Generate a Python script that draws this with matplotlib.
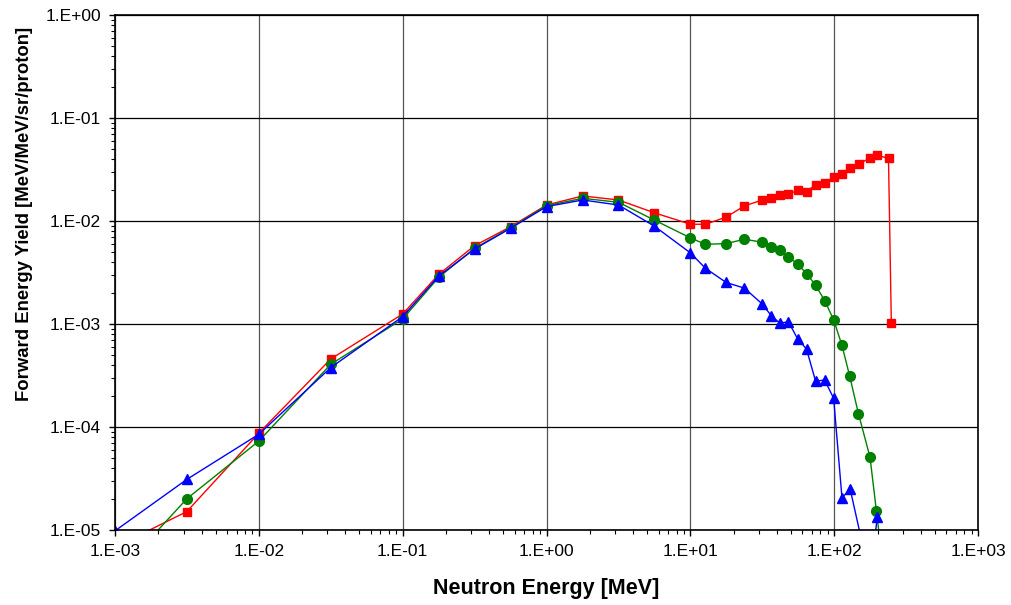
import matplotlib
matplotlib.use("Agg")
import matplotlib.pyplot as plt
import numpy as np
from matplotlib.ticker import FixedLocator, FuncFormatter, NullFormatter

plt.rcParams['font.family'] = ['Liberation Sans', 'DejaVu Sans']

# shared low-energy grid [MeV]
e_low = [1e-3, 3.16e-3, 1e-2, 3.16e-2, 1e-1, 1.78e-1, 3.16e-1, 5.62e-1,
         1.0, 1.78, 3.16, 5.62, 10.0]
# high-energy grid [MeV]
e_high = [12.7, 17.7, 23.7, 31.6, 36.5, 41.8, 48.0, 55.5, 64.1, 74.1,
          85.6, 98.9, 113, 129, 149, 177, 199, 238, 249]

red_low = [6.8e-6, 1.51e-5, 8.7e-5, 4.57e-4, 1.25e-3, 3.03e-3, 5.76e-3,
           8.8e-3, 1.43e-2, 1.75e-2, 1.60e-2, 1.20e-2, 9.3e-3]
red_high = [9.3e-3, 1.09e-2, 1.40e-2, 1.60e-2, 1.68e-2, 1.77e-2, 1.81e-2,
            1.99e-2, 1.92e-2, 2.26e-2, 2.33e-2, 2.67e-2, 2.87e-2, 3.24e-2,
            3.59e-2, 4.1e-2, 4.35e-2, 4.05e-2, 1.02e-3]

green_low = [3.5e-6, 2.01e-5, 7.3e-5, 4.06e-4, 1.12e-3, 2.84e-3, 5.43e-3,
             8.6e-3, 1.41e-2, 1.66e-2, 1.52e-2, 1.02e-2, 6.85e-3]
green_high = [5.94e-3, 6.03e-3, 6.65e-3, 6.22e-3, 5.64e-3, 5.2e-3, 4.51e-3,
              3.81e-3, 3.09e-3, 2.38e-3, 1.69e-3, 1.10e-3, 6.2e-4, 3.1e-4,
              1.35e-4, 5.1e-5, 1.54e-5, 4.0e-6]
green_high_e = [12.7, 17.7, 23.7, 31.6, 36.5, 41.8, 48.0, 55.5, 64.1, 74.1,
                85.6, 98.9, 113, 128, 147, 177, 196, 220]

blue_low = [9.8e-6, 3.1e-5, 8.5e-5, 3.77e-4, 1.18e-3, 2.92e-3, 5.35e-3,
            8.5e-3, 1.38e-2, 1.60e-2, 1.43e-2, 8.9e-3, 4.9e-3]
blue_high = [3.48e-3, 2.53e-3, 2.23e-3, 1.56e-3, 1.20e-3, 1.02e-3, 1.05e-3,
             7.2e-4, 5.7e-4, 2.78e-4, 2.86e-4, 1.9e-4, 2.06e-5, 2.48e-5,
             3.4e-6, 1.34e-5]
blue_high_e = [12.7, 17.7, 23.7, 31.6, 36.5, 41.8, 48.0, 55.5, 64.1, 74.1,
               85.6, 98.9, 113, 129, 177, 199]

x_decades = np.arange(-3, 4)
y_decades = np.arange(-5, 1)

fig = plt.figure(figsize=(10.12, 6.05), dpi=100)
ax = fig.add_axes([0.1136, 0.124, 0.853, 0.8512])

ax.plot(e_low + e_high, red_low + red_high, '-s', color='#ff0000',
        lw=1, ms=5.8)
ax.plot(e_low + green_high_e, green_low + green_high, '-o', color='#008000',
        lw=1, ms=7)
ax.plot(e_low + blue_high_e, blue_low + blue_high, '-^', color='#0000ff',
        lw=1, ms=7)

ax.set_xscale('log')
ax.set_yscale('log')
ax.set_xlim(1e-3, 1e3)
ax.set_ylim(1e-5, 1e0)

def minors(decades):
    return [m * 10.0**d for d in decades[:-1] for m in range(2, 10)]

fmt = FuncFormatter(lambda v, p: f"1.E{int(round(np.log10(v))):+03d}")
ax.xaxis.set_major_locator(FixedLocator(10.0**x_decades))
ax.yaxis.set_major_locator(FixedLocator(10.0**y_decades))
ax.xaxis.set_major_formatter(fmt)
ax.yaxis.set_major_formatter(fmt)
ax.xaxis.set_minor_locator(FixedLocator(minors(x_decades)))
ax.yaxis.set_minor_locator(FixedLocator(minors(y_decades)))
ax.xaxis.set_minor_formatter(NullFormatter())
ax.yaxis.set_minor_formatter(NullFormatter())

ax.tick_params(which='major', direction='out', length=4, width=1,
               labelsize=12.5, pad=6)
ax.tick_params(which='minor', direction='out', length=3, width=0.8)

ax.grid(True, which='major', axis='y', color='black', lw=0.9)
ax.grid(True, which='major', axis='x', color='#555555', lw=0.9)
for s in ax.spines.values():
    s.set_linewidth(1.2)

ax.set_xlabel('Neutron Energy [MeV]', fontsize=15.5, fontweight='bold',
              labelpad=14)
ax.set_ylabel('Forward Energy Yield [MeV/MeV/sr/proton]', fontsize=13.3,
              fontweight='bold')
ax.yaxis.set_label_coords(-0.095, 0.614)

fig.savefig('out.png', dpi=100)
